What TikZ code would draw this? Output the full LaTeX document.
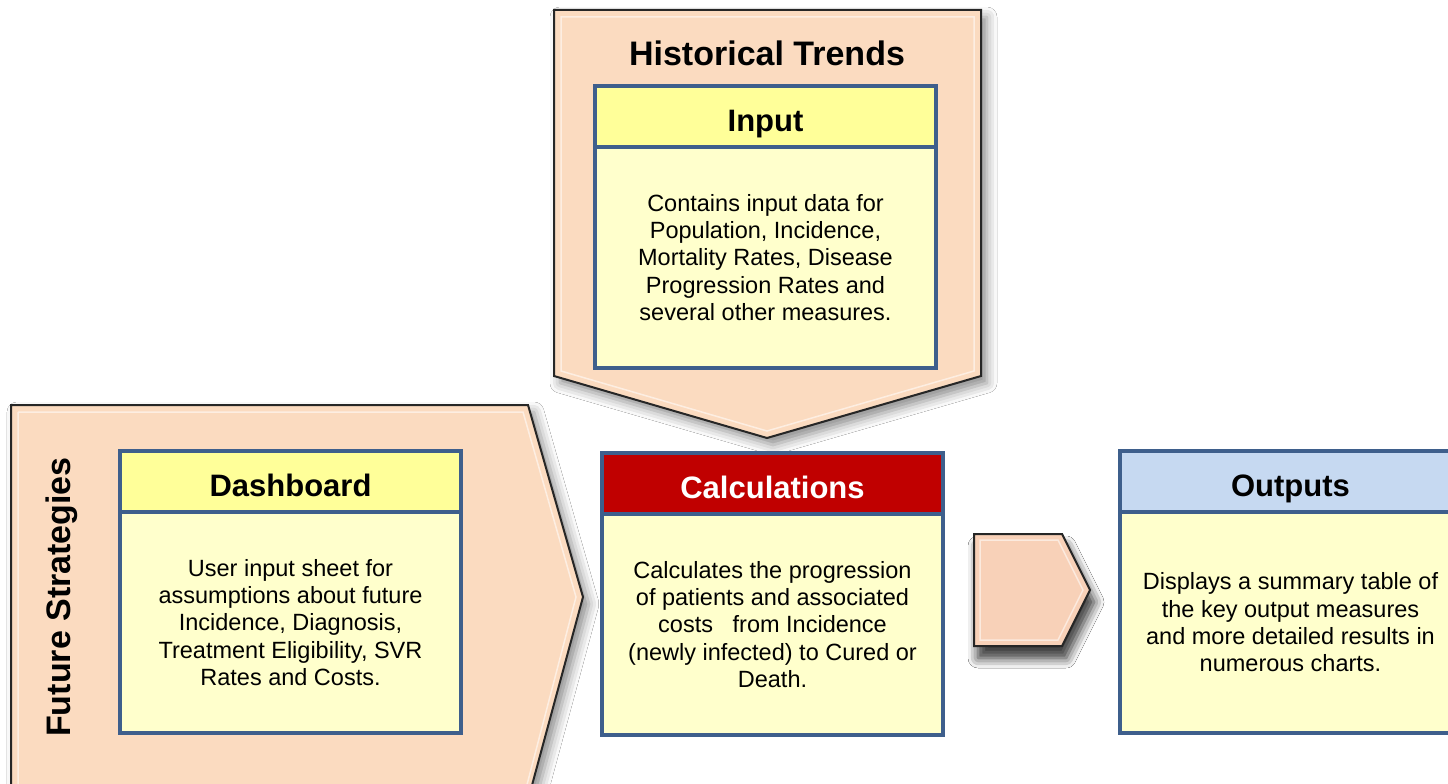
\documentclass[tikz,border=0pt]{standalone}
\usepackage{fontspec}
\setmainfont{Liberation Sans}
\usetikzlibrary{positioning}
\usetikzlibrary{shadows.blur}

\definecolor{peach}{HTML}{FBDBC0}
\definecolor{peachdark}{HTML}{F8D1B8}
\definecolor{headyellow}{HTML}{FFFF99}
\definecolor{bodyyellow}{HTML}{FFFFCC}
\definecolor{frameblue}{HTML}{3E5F8C}
\definecolor{calcred}{HTML}{C00000}
\definecolor{outblue}{HTML}{C6D9F1}

\begin{document}
\begin{tikzpicture}[x=1pt,y=-1pt,
	sheethead/.style={draw=frameblue, line width=4.5pt, outer sep=0pt, anchor=north west,
		minimum width=341pt, minimum height=61pt, fill=headyellow,
		text height=29pt, text depth=0pt,
		font=\fontsize{31}{36}\selectfont\bfseries},
	sheetbody/.style={draw=frameblue, line width=4.5pt, outer sep=0pt, anchor=north,
		minimum width=341pt, minimum height=221pt, fill=bodyyellow, align=center,
		font=\fontsize{23.5}{27.3}\selectfont},
	arrowshape/.style={fill=peach, draw=black!85, line width=2pt, line join=miter,
		blur shadow={shadow xshift=6pt, shadow yshift=-7pt, shadow blur radius=10pt, shadow opacity=45}},
	bevel/.style={draw=white, line width=1.5pt, opacity=0.55, line join=miter},
	bigtitle/.style={font=\fontsize{34}{40}\selectfont\bfseries}]
	\useasboundingbox (0,0) rectangle (1448,784);
	\fill[white] (0,0) rectangle (1448,784);
	\draw[arrowshape] (554,10) -- (981,10) -- (981,376) -- (767,438) -- (554,376) -- cycle;
	\draw[bevel] (561,17) -- (974,17) -- (974,371) -- (767,431) -- (561,371) -- cycle;
	\draw[arrowshape] (11,405) -- (528,405) -- (583,597) -- (528,800) -- (11,800) -- cycle;
	\draw[bevel] (18,412) -- (523,412) -- (576,597) -- (523,800) (18,800) -- (18,412);
	\draw[arrowshape, fill=peachdark, blur shadow={shadow xshift=4pt, shadow yshift=-12pt, shadow blur radius=10pt, shadow opacity=50}]
		(974,534) -- (1062,534) -- (1090,590) -- (1062,646) -- (974,646) -- cycle;
	\draw[bevel] (980,540) -- (1058,540) -- (1083,590) -- (1058,640) -- (980,640) -- cycle;
	\node[bigtitle] (histtitle) at (767,53) {Historical Trends};
	\node[bigtitle, rotate=90] (futuretitle) at (62,597) {Future Strategies};
	\node[sheethead] (inputhead) at (595,86) {Input};
	\node[sheetbody, below=0pt of inputhead] (inputbody) {Contains input data for\\Population, Incidence,\\Mortality Rates, Disease\\Progression Rates and\\several other measures.};
	\node[sheethead] (dashhead) at (120,451) {Dashboard};
	\node[sheetbody, below=0pt of dashhead] (dashbody) {User input sheet for\\assumptions about future\\Incidence, Diagnosis,\\Treatment Eligibility, SVR\\Rates and Costs.};
	\node[sheethead, fill=calcred, text=white] (calchead) at (602,453) {Calculations};
	\node[sheetbody, below=0pt of calchead] (calcbody) {Calculates the progression\\of patients and associated\\costs \ \ from Incidence\\(newly infected) to Cured or\\Death.};
	\node[sheethead, fill=outblue] (outhead) at (1120,451) {Outputs};
	\node[sheetbody, below=0pt of outhead] (outbody) {Displays a summary table of\\the key output measures\\and more detailed results in\\numerous charts.};
\end{tikzpicture}
\end{document}
